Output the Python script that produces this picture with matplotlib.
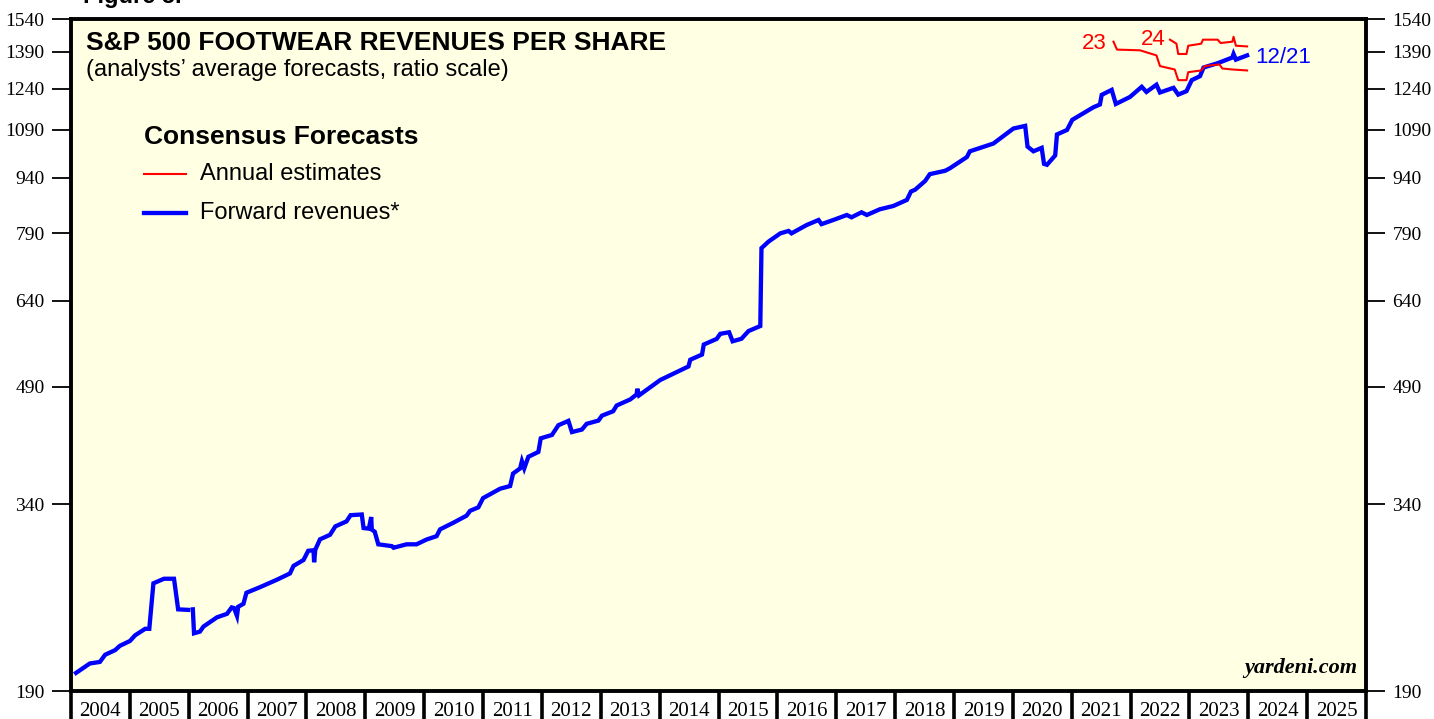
import matplotlib
matplotlib.use("Agg")
import matplotlib.pyplot as plt
from matplotlib.ticker import FixedLocator, NullFormatter, FixedFormatter
import numpy as np

# forward revenues (decimal year, value)
fwd_year = [2004.085, 2004.32, 2004.49, 2004.58, 2004.75, 2004.83, 2005.00, 2005.09, 2005.26, 2005.33,
            2005.40, 2005.58, 2005.75, 2005.82, 2005.99, 2006.03, 2006.07, 2006.09, 2006.19, 2006.25,
            2006.48, 2006.65, 2006.73, 2006.77, 2006.82, 2006.84, 2006.93, 2006.98, 2007.21, 2007.49,
            2007.72, 2007.78, 2007.95, 2008.03, 2008.12, 2008.13, 2008.15, 2008.23, 2008.40, 2008.49,
            2008.68, 2008.75, 2008.94, 2008.97, 2009.06, 2009.10, 2009.11, 2009.16, 2009.22, 2009.45,
            2009.48, 2009.70, 2009.87, 2010.04, 2010.21, 2010.27, 2010.50, 2010.72, 2010.78, 2010.92,
            2011.00, 2011.29, 2011.46, 2011.51, 2011.63, 2011.66, 2011.70, 2011.77, 2011.94, 2011.98,
            2012.17, 2012.28, 2012.45, 2012.51, 2012.68, 2012.76, 2012.96, 2013.02, 2013.21, 2013.27,
            2013.50, 2013.61, 2013.62, 2013.65, 2014.01, 2014.35, 2014.49, 2014.52, 2014.72, 2014.75,
            2014.97, 2015.03, 2015.18, 2015.24, 2015.39, 2015.51, 2015.71, 2015.73, 2015.85, 2016.05,
            2016.19, 2016.24, 2016.50, 2016.70, 2016.75, 2016.95, 2017.18, 2017.26, 2017.43, 2017.52,
            2017.74, 2017.97, 2018.20, 2018.27, 2018.34, 2018.51, 2018.59, 2018.85, 2018.93, 2019.22,
            2019.27, 2019.67, 2020.01, 2020.21, 2020.25, 2020.35, 2020.49, 2020.53, 2020.58, 2020.72,
            2020.75, 2020.92, 2021.01, 2021.37, 2021.48, 2021.51, 2021.68, 2021.75, 2021.99, 2022.19,
            2022.27, 2022.44, 2022.50, 2022.73, 2022.81, 2022.95, 2023.04, 2023.18, 2023.24, 2023.48,
            2023.73, 2023.75, 2023.79, 2023.98]
fwd_val = [201, 207, 208, 212.7, 215.8, 218.7, 222, 226, 230.6, 230.6,
           265.7, 269.5, 269.5, 245, 244.6, np.nan, 245, 227.4, 228.6, 232.2,
           239, 241.6, 246.5, 246, 240, 247, 249.3, 258, 262.5, 268.5,
           274, 280.5, 285.7, 294, 294.5, 283.7, 295, 304.7, 309, 317.2,
           322.2, 328.5, 329.2, 315.6, 315, 326.6, 314, 312, 300, 298.3,
           296.8, 300, 300, 304.5, 307.7, 314.3, 321, 328, 333, 336.6,
           346.4, 356.7, 359.7, 374, 380, 388.6, 380, 394, 400, 417.3,
           421.7, 434.7, 440.6, 425.5, 428.9, 436.6, 441, 447.8, 454, 462.2,
           471, 478.5, 487, 477, 500.4, 515.5, 522, 533, 541.7, 558.8,
           568.8, 577.8, 580.6, 564.5, 569, 582.8, 592, 754.5, 770, 790,
           796, 790, 811, 823.6, 813, 823.6, 836.5, 830.5, 843.6, 836.5,
           851.5, 860.3, 876.7, 900, 905, 930, 950, 960, 967.4, 1002,
           1020, 1045, 1095, 1104, 1035, 1020, 1031, 981, 978, 1007,
           1075, 1090, 1125, 1170, 1180, 1216, 1235, 1182, 1208, 1247,
           1227, 1255, 1225, 1243, 1217, 1230, 1273, 1289, 1324, 1342,
           1366, 1381, 1357, 1375]

# annual estimates
est23_year = [2021.71, 2021.77, 2022.16, 2022.44, 2022.50, 2022.75, 2022.81, 2022.95, 2022.98,
              2023.20, 2023.26, 2023.51, 2023.56, 2023.73, 2023.98]
est23_val = [1435, 1400, 1397, 1375, 1330, 1316, 1273, 1273, 1305, 1312, 1330, 1337, 1320, 1316, 1312]
est24_year = [2022.67, 2022.78, 2022.81, 2022.95, 2022.98, 2023.20, 2023.23, 2023.48, 2023.53,
              2023.73, 2023.75, 2023.79, 2023.98]
est24_val = [1444, 1426, 1381, 1381, 1417, 1426, 1444, 1444, 1429, 1435, 1457, 1417, 1414]

yticks = [190, 340, 490, 640, 790, 940, 1090, 1240, 1390, 1540]
years = list(range(2004, 2026))

serif = "Liberation Serif"
sans = "Liberation Sans"

fig = plt.figure(figsize=(14.34, 7.19), dpi=100)
ax = fig.add_axes([71 / 1434, 1 - 691 / 719, 1295 / 1434, 672 / 719])
ax.set_facecolor("#ffffe4")

ax.plot(fwd_year, fwd_val, color="#0000ff", lw=3.1, solid_joinstyle="miter")
ax.plot(est23_year, est23_val, color="#ff0000", lw=1.5)
ax.plot(est24_year, est24_val, color="#ff0000", lw=1.5)

ax.set_yscale("log")
ax.set_ylim(190, 1540)
ax.set_xlim(2004, 2026)

for side in ["left", "right", "top", "bottom"]:
    ax.spines[side].set_linewidth(2.8)

ax.yaxis.set_major_locator(FixedLocator(yticks))
ax.yaxis.set_major_formatter(FixedFormatter([str(v) for v in yticks]))
ax.yaxis.set_minor_locator(FixedLocator([]))
ax.tick_params(axis="y", which="major", left=True, right=True, labelleft=True, labelright=True,
               direction="out", length=14, width=1.3, pad=5, labelsize=14)
for lab in ax.get_yticklabels():
    lab.set_fontfamily(serif)

ax.xaxis.set_major_locator(FixedLocator(years + [2026]))
ax.xaxis.set_major_formatter(NullFormatter())
ax.xaxis.set_minor_locator(FixedLocator([y + 0.5 for y in years]))
ax.xaxis.set_minor_formatter(FixedFormatter([str(y) for y in years]))
ax.tick_params(axis="x", which="major", direction="out", length=20, width=2.6)
ax.tick_params(axis="x", which="minor", length=0, pad=8, labelsize=15)
for lab in ax.get_xticklabels(minor=True):
    lab.set_fontfamily(serif)

ax.text(0.0115, 0.982, "S&P 500 FOOTWEAR REVENUES PER SHARE", transform=ax.transAxes,
        fontsize=19, fontweight="bold", family=sans, va="top")
ax.text(0.0115, 0.940, "(analysts\u2019 average forecasts, ratio scale)", transform=ax.transAxes,
        fontsize=17, family=sans, va="top")
fig.text(83 / 1434, 1.005, "Figure 5.", fontsize=17, fontweight="bold", family=sans, va="center")

# legend
ax.text(0.056, 0.824, "Consensus Forecasts", transform=ax.transAxes, fontsize=19,
        fontweight="bold", family=sans, va="center")
ax.plot([0.056, 0.089], [0.770, 0.770], transform=ax.transAxes, color="#ff0000", lw=1.5)
ax.plot([0.056, 0.089], [0.711, 0.711], transform=ax.transAxes, color="#0000ff", lw=3.1)
ax.text(0.1, 0.770, "Annual estimates", transform=ax.transAxes, fontsize=17, family=sans, va="center")
ax.text(0.1, 0.711, "Forward revenues*", transform=ax.transAxes, fontsize=17, family=sans, va="center")

ax.text(2021.39, 1425, "23", color="#ff0000", fontsize=16, family=sans, va="center", ha="center")
ax.text(2022.38, 1445, "24", color="#ff0000", fontsize=16, family=sans, va="center", ha="center")
ax.text(2024.12, 1365, "12/21", color="#0000ff", fontsize=16, family=sans, va="center")

ax.text(0.993, 0.02, "yardeni.com", transform=ax.transAxes, fontsize=16, family=serif,
        fontweight="bold", style="italic", ha="right", va="bottom")

fig.savefig("out.png", dpi=100)
